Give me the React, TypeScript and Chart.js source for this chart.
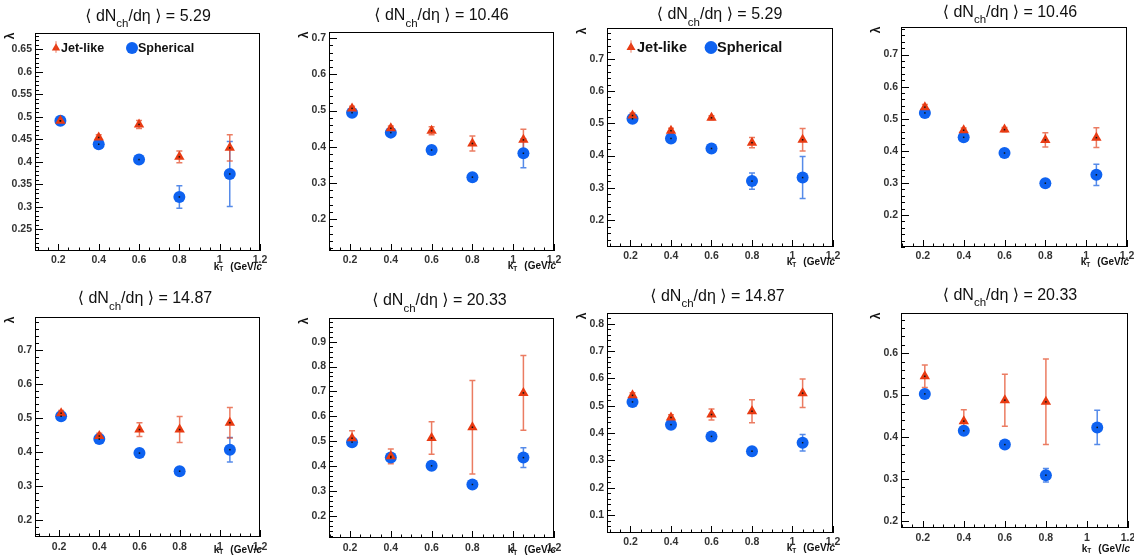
import React, { useEffect, useRef } from "react";
import { Chart, registerables } from "chart.js";

Chart.register(...registerables);

// ---------------- data ----------------
const kT = [0.21, 0.4, 0.6, 0.8, 1.05];
const xTickLabels = [0.2, 0.4, 0.6, 0.8, 1, 1.2];
const seriesNames = ["Jet-like", "Spherical"];
const multiplicity = ["5.29", "10.46", "5.29", "10.46", "14.87", "20.33", "14.87", "20.33"];

// panel 1
const jet1 = [0.491, 0.454, 0.483, 0.411, 0.431];
const jetErr1 = [0.005, 0.006, 0.009, 0.013, 0.029];
const sph1 = [0.491, 0.439, 0.405, 0.322, 0.373];
const sphErr1 = [0.004, 0.005, 0.005, 0.025, 0.072];
// panel 2
const jet2 = [0.506, 0.451, 0.444, 0.409, 0.419];
const jetErr2 = [0.006, 0.006, 0.011, 0.021, 0.029];
const sph2 = [0.494, 0.439, 0.391, 0.316, 0.382];
const sphErr2 = [0.005, 0.005, 0.005, 0.006, 0.04];
// panel 3
const jet3 = [0.524, 0.477, 0.517, 0.44, 0.449];
const jetErr3 = [0.008, 0.008, 0.006, 0.016, 0.035];
const sph3 = [0.514, 0.453, 0.422, 0.321, 0.332];
const sphErr3 = [0.006, 0.006, 0.006, 0.025, 0.065];
// panel 4
const jet4 = [0.536, 0.464, 0.466, 0.434, 0.441];
const jetErr4 = [0.008, 0.007, 0.007, 0.022, 0.031];
const sph4 = [0.518, 0.442, 0.393, 0.299, 0.325];
const sphErr4 = [0.006, 0.006, 0.006, 0.005, 0.033];
// panel 5
const jet5 = [0.514, 0.447, 0.466, 0.466, 0.486];
const jetErr5 = [0.008, 0.008, 0.02, 0.038, 0.045];
const sph5 = [0.505, 0.438, 0.397, 0.344, 0.407];
const sphErr5 = [0.005, 0.005, 0.005, 0.006, 0.036];
// panel 6
const jet6 = [0.512, 0.439, 0.513, 0.556, 0.694];
const jetErr6 = [0.03, 0.03, 0.065, 0.188, 0.15];
const sph6 = [0.496, 0.434, 0.401, 0.326, 0.434];
const sphErr6 = [0.006, 0.006, 0.006, 0.006, 0.04];
// panel 7
const jet7 = [0.538, 0.457, 0.468, 0.48, 0.546];
const jetErr7 = [0.01, 0.01, 0.02, 0.042, 0.052];
const sph7 = [0.514, 0.431, 0.388, 0.334, 0.365];
const sphErr7 = [0.006, 0.006, 0.006, 0.006, 0.03];
// panel 8
const jet8 = [0.545, 0.438, 0.488, 0.484, null];
const jetErr8 = [0.027, 0.027, 0.062, 0.102, null];
const sph8 = [0.503, 0.415, 0.382, 0.309, 0.423];
const sphErr8 = [0.006, 0.01, 0.006, 0.016, 0.041];

// tick labels
const yTicks1 = [0.25, 0.3, 0.35, 0.4, 0.45, 0.5, 0.55, 0.6, 0.65];
const yTicks2 = [0.2, 0.3, 0.4, 0.5, 0.6, 0.7];
const yTicks6 = [0.2, 0.3, 0.4, 0.5, 0.6, 0.7, 0.8, 0.9];
const yTicks7 = [0.1, 0.2, 0.3, 0.4, 0.5, 0.6, 0.7, 0.8];
const yTicks8 = [0.2, 0.3, 0.4, 0.5, 0.6];

// axis ranges
const yMins = [0.202, 0.112, 0.117, 0.1, 0.151, 0.111, 0.035, 0.183];
const yMaxs = [0.686, 0.717, 0.795, 0.786, 0.796, 0.995, 0.839, 0.696];
const xMins = [0.084, 0.097, 0.084, 0.093, 0.08, 0.097, 0.084, 0.094];
const xMax = 1.2;

// ---------------- layout / style ----------------
const RED = "rgb(232,58,18)";
const RED_BAR = "rgba(228,80,45,0.75)";
const BLUE = "rgb(14,98,240)";
const BLUE_BAR = "rgba(30,100,225,0.75)";
const FONT = '"Liberation Sans", Arial, "DejaVu Sans", sans-serif';

const boxes = [
  { l: 35, t: 33, r: 260, b: 251 },
  { l: 329, t: 32, r: 554, b: 251 },
  { l: 607, t: 28, r: 833, b: 247 },
  { l: 901, t: 27, r: 1127, b: 247 },
  { l: 35, t: 317, r: 260, b: 537 },
  { l: 329, t: 318, r: 554, b: 538 },
  { l: 607, t: 313, r: 833, b: 533 },
  { l: 901, t: 313, r: 1128, b: 528 },
];
const titleX = [148, 441.5, 719.5, 1010, 145, 439.5, 717.5, 1010];
const titleBase = [20.5, 20, 19, 16.5, 303, 305, 300.5, 299.5];
const xTitleY = [267, 266.5, 262.5, 262.5, 550, 550.5, 548.5, 549];
const xTickPad = [3, 3, 3, 3, 4, 4, 3, 4];
const legends: any[] = [
  { size: 12.5, tx: 56, cx: 132, y: 48, triR: 4.8, cirR: 6, t1: 61, t2: 138 },
  null,
  { size: 14.5, tx: 631, cx: 711, y: 47.5, triR: 5.2, cirR: 6.4, t1: 637, t2: 717 },
  null,
  null,
  null,
  null,
  null,
];

const PADL = 40, PADT = 40, PADR = 14, PADB = 30, YW = 30, XH = 16;

const jets = [jet1, jet2, jet3, jet4, jet5, jet6, jet7, jet8];
const jetErrs = [jetErr1, jetErr2, jetErr3, jetErr4, jetErr5, jetErr6, jetErr7, jetErr8];
const sphs = [sph1, sph2, sph3, sph4, sph5, sph6, sph7, sph8];
const sphErrs = [sphErr1, sphErr2, sphErr3, sphErr4, sphErr5, sphErr6, sphErr7, sphErr8];
const yTickSets = [yTicks1, yTicks2, yTicks2, yTicks2, yTicks2, yTicks6, yTicks7, yTicks8];
const yMinorSteps = [0.01, 0.02, 0.02, 0.02, 0.02, 0.02, 0.02, 0.02];

const fmt = (v: number) => String(parseFloat(Number(v).toFixed(2)));

function drawTri(ctx: CanvasRenderingContext2D, x: number, y: number, r: number) {
  ctx.beginPath();
  for (let k = 0; k < 3; k++) {
    const a = -Math.PI / 2 + (k * 2 * Math.PI) / 3;
    const px = x + Math.cos(a) * r, py = y + Math.sin(a) * r;
    if (k === 0) ctx.moveTo(px, py); else ctx.lineTo(px, py);
  }
  ctx.closePath();
  ctx.fill();
}

function drawParts(ctx: CanvasRenderingContext2D, parts: any[], xStart: number, base: number) {
  let x = xStart;
  for (const p of parts) {
    ctx.font = p.f;
    ctx.fillText(p.t, x, base + (p.dy || 0));
    x += ctx.measureText(p.t).width + (p.gap || 0);
  }
}
function partsWidth(ctx: CanvasRenderingContext2D, parts: any[]) {
  let w = 0;
  for (const p of parts) {
    ctx.font = p.f;
    w += ctx.measureText(p.t).width + (p.gap || 0);
  }
  return w;
}

function makePlugin(i: number) {
  const box = boxes[i];
  const ox = box.l - PADL, oy = box.t - PADT;
  return {
    id: "rootStyle" + i,
    beforeDatasetsDraw(chart: any) {
      const { ctx, chartArea: a, scales } = chart;
      const x = scales.x, y = scales.y;
      ctx.save();
      ctx.strokeStyle = "#000";
      ctx.lineWidth = 1;
      ctx.strokeRect(a.left + 0.5, a.top + 0.5, a.right - a.left - 1, a.bottom - a.top - 1);
      ctx.beginPath();
      const ys = yMinorSteps[i];
      for (let k = Math.ceil(y.min / ys - 1e-6); k * ys <= y.max + 1e-9; k++) {
        const v = k * ys;
        const major = yTickSets[i].some((t) => Math.abs(t - v) < 1e-6);
        const py = Math.round(y.getPixelForValue(v)) + 0.5;
        ctx.moveTo(a.left, py);
        ctx.lineTo(a.left + (major ? 8 : 4), py);
      }
      const xs = 0.05;
      for (let k = Math.ceil(x.min / xs - 1e-6); k * xs <= x.max + 1e-9; k++) {
        const v = k * xs;
        const major = xTickLabels.some((t) => Math.abs(t - v) < 1e-6);
        const px = Math.round(x.getPixelForValue(v)) + 0.5;
        ctx.moveTo(px, a.bottom);
        ctx.lineTo(px, a.bottom - (major ? 7 : 3.5));
      }
      ctx.stroke();
      const drawErr = (vals: any[], errs: any[], color: string) => {
        ctx.strokeStyle = color;
        ctx.lineWidth = 1.5;
        vals.forEach((v, j) => {
          if (v == null || errs[j] == null) return;
          const px = x.getPixelForValue(kT[j]);
          const y1 = y.getPixelForValue(v + errs[j]);
          const y2 = y.getPixelForValue(v - errs[j]);
          ctx.beginPath();
          ctx.moveTo(px, y1); ctx.lineTo(px, y2);
          ctx.moveTo(px - 3, y1); ctx.lineTo(px + 3, y1);
          ctx.moveTo(px - 3, y2); ctx.lineTo(px + 3, y2);
          ctx.stroke();
        });
      };
      drawErr(sphs[i], sphErrs[i], BLUE_BAR);
      drawErr(jets[i], jetErrs[i], RED_BAR);
      ctx.restore();
    },
    afterDatasetsDraw(chart: any) {
      const { ctx, scales } = chart;
      ctx.save();
      ctx.fillStyle = "#111";
      [jets[i], sphs[i]].forEach((vals) => {
        vals.forEach((v: any, j: number) => {
          if (v == null) return;
          const px = scales.x.getPixelForValue(kT[j]);
          const py = scales.y.getPixelForValue(v);
          ctx.fillRect(px - 0.75, py - 0.75, 1.5, 1.5);
        });
      });
      ctx.restore();
    },
    afterDraw(chart: any) {
      const { ctx } = chart;
      ctx.save();
      ctx.fillStyle = "#111";
      ctx.textAlign = "left";
      ctx.textBaseline = "alphabetic";
      // title
      const main = `16px ${FONT}`;
      const sub = `11.5px ${FONT}`;
      const tparts = [
        { t: "\u27E8 dN", f: main },
        { t: "ch", f: sub, dy: 6.5 },
        { t: "/d\u03B7 \u27E9 = " + multiplicity[i], f: main },
      ];
      const tw = partsWidth(ctx, tparts);
      drawParts(ctx, tparts, titleX[i] - ox - tw / 2, titleBase[i] - oy);
      // y title (lambda)
      ctx.save();
      ctx.translate(box.l - 24 - ox, box.t + 3 - oy);
      ctx.rotate(-Math.PI / 2);
      ctx.font = `bold 12px ${FONT}`;
      ctx.textAlign = "center";
      ctx.textBaseline = "middle";
      ctx.fillText("\u03BB", 0, 0);
      ctx.restore();
      // x title
      ctx.textBaseline = "middle";
      const xf = `bold 10px ${FONT}`;
      const xparts = [
        { t: "k", f: xf },
        { t: "T", f: `bold 6.5px ${FONT}`, dy: 2.5, gap: 7 },
        { t: "(GeV/", f: xf },
        { t: "c", f: `italic bold 10px ${FONT}` },
      ];
      const xw = partsWidth(ctx, xparts);
      drawParts(ctx, xparts, box.r + 2 - ox - xw, xTitleY[i] - oy);
      // legend
      const L = legends[i];
      if (L) {
        ctx.fillStyle = RED;
        drawTri(ctx, L.tx - ox, L.y - oy, L.triR);
        ctx.strokeStyle = RED_BAR;
        ctx.lineWidth = 1;
        ctx.beginPath();
        ctx.moveTo(L.tx - ox, L.y - oy - L.triR - 2);
        ctx.lineTo(L.tx - ox, L.y - oy + L.triR);
        ctx.stroke();
        ctx.fillStyle = BLUE;
        ctx.beginPath();
        ctx.arc(L.cx - ox, L.y - oy, L.cirR, 0, Math.PI * 2);
        ctx.fill();
        ctx.fillStyle = "#111";
        ctx.font = `bold ${L.size}px ${FONT}`;
        ctx.textAlign = "left";
        ctx.textBaseline = "middle";
        ctx.fillText(seriesNames[0], L.t1 - ox, L.y - oy + 0.5);
        ctx.fillText(seriesNames[1], L.t2 - ox, L.y - oy + 0.5);
      }
      ctx.restore();
    },
  };
}

function Panel({ i }: { i: number }) {
  const ref = useRef<HTMLCanvasElement>(null);
  const box = boxes[i];
  const w = box.r - box.l + PADL + PADR;
  const h = box.b - box.t + PADT + PADB;
  useEffect(() => {
    if (!ref.current) return;
    const toPts = (vals: any[]) =>
      kT.map((x, j) => ({ x, y: vals[j] })).filter((p) => p.y != null);
    const tickFont = { family: FONT, size: 10.5, weight: "bold" as const };
    const chart = new Chart(ref.current, {
      type: "scatter",
      data: {
        datasets: [
          {
            label: seriesNames[0],
            data: toPts(jets[i]),
            pointStyle: "triangle",
            pointRadius: 6,
            pointBackgroundColor: RED,
            pointBorderColor: RED,
            pointBorderWidth: 0,
            showLine: false,
          },
          {
            label: seriesNames[1],
            data: toPts(sphs[i]),
            pointStyle: "circle",
            pointRadius: 6,
            pointBackgroundColor: BLUE,
            pointBorderColor: BLUE,
            pointBorderWidth: 0,
            showLine: false,
          },
        ],
      },
      options: {
        responsive: false,
        animation: false,
        devicePixelRatio: 1,
        events: [],
        layout: { padding: { left: PADL - YW, top: PADT, right: PADR, bottom: PADB - XH } },
        plugins: { legend: { display: false }, tooltip: { enabled: false }, title: { display: false } },
        scales: {
          x: {
            type: "linear",
            min: xMins[i],
            max: xMax,
            grid: { display: false, drawTicks: false },
            border: { display: false },
            afterBuildTicks: (s: any) => {
              s.ticks = xTickLabels.map((v) => ({ value: v }));
            },
            afterFit: (s: any) => {
              s.height = XH;
            },
            ticks: {
              callback: (v: any) => fmt(v),
              font: tickFont,
              color: "#333",
              padding: xTickPad[i],
              maxRotation: 0,
              minRotation: 0,
              autoSkip: false,
            },
          },
          y: {
            type: "linear",
            min: yMins[i],
            max: yMaxs[i],
            grid: { display: false, drawTicks: false },
            border: { display: false },
            afterBuildTicks: (s: any) => {
              s.ticks = yTickSets[i].map((v) => ({ value: v }));
            },
            afterFit: (s: any) => {
              s.width = YW;
            },
            ticks: {
              callback: (v: any) => fmt(v),
              font: tickFont,
              color: "#333",
              padding: 3,
              autoSkip: false,
            },
          },
        },
      } as any,
      plugins: [makePlugin(i)],
    });
    return () => chart.destroy();
  }, [i]);
  return (
    <canvas
      ref={ref}
      width={w}
      height={h}
      style={{ position: "absolute", left: box.l - PADL, top: box.t - PADT, width: w, height: h }}
    />
  );
}

export default function App() {
  return (
    <div
      style={{
        position: "fixed",
        left: 0,
        top: 0,
        width: 1134,
        height: 558,
        background: "#fff",
        overflow: "hidden",
      }}
    >
      {boxes.map((_, i) => (
        <Panel key={i} i={i} />
      ))}
    </div>
  );
}
